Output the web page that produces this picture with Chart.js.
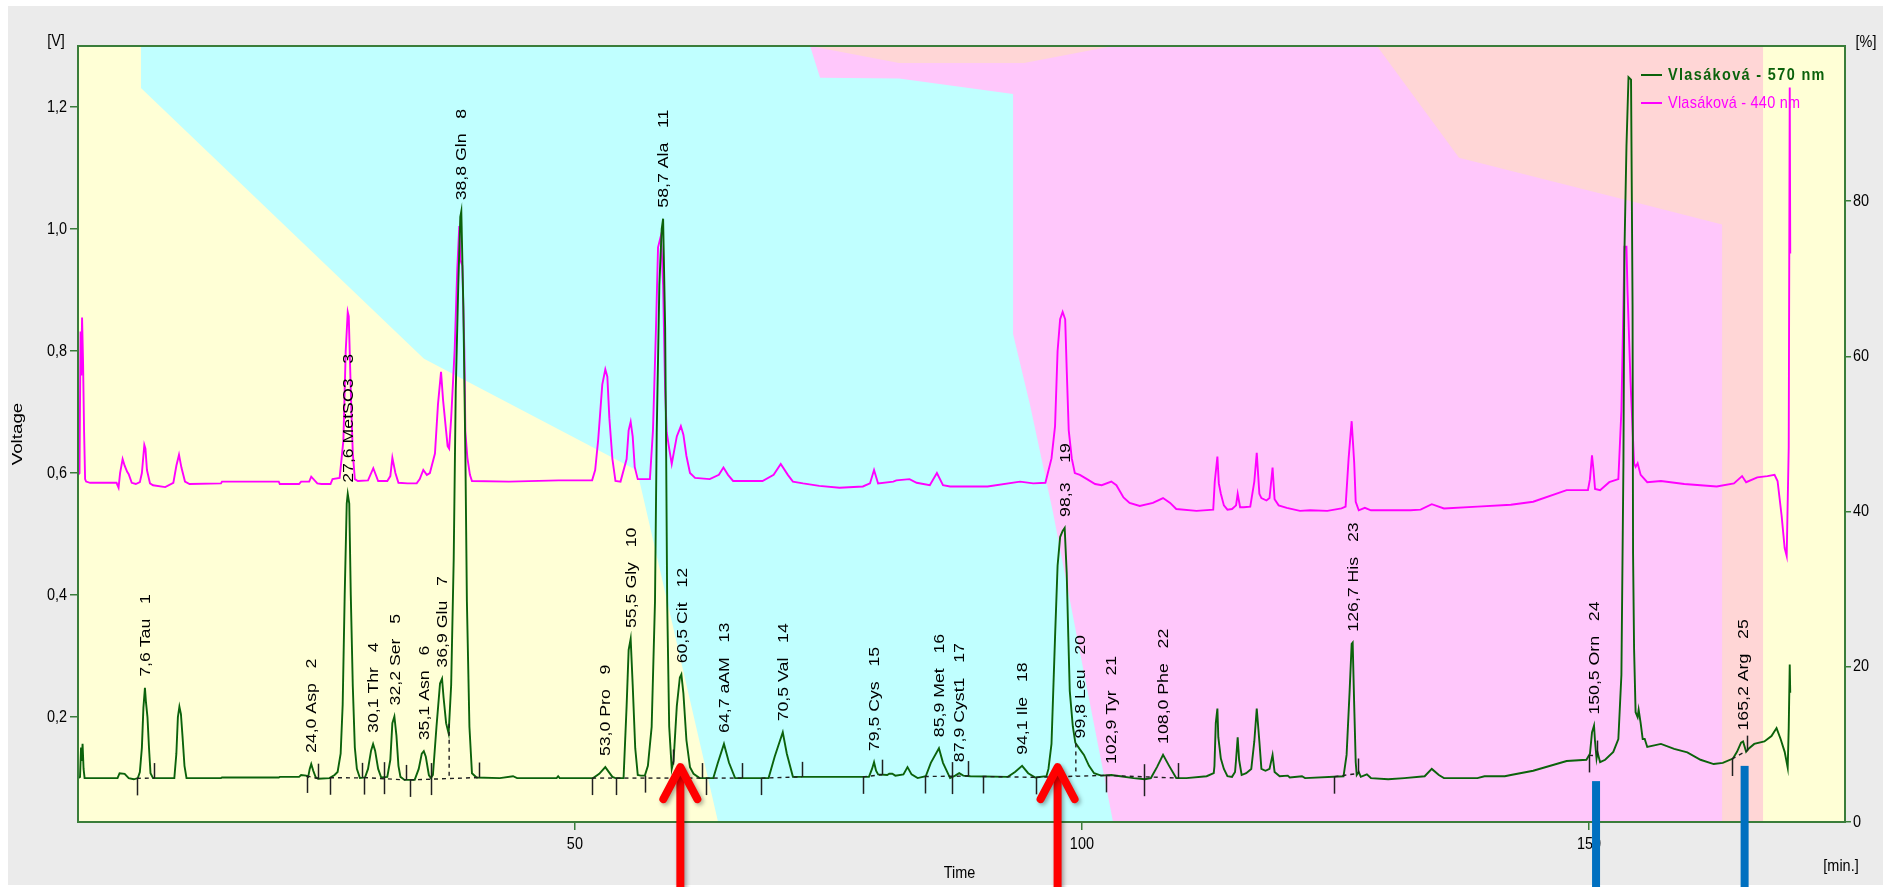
<!DOCTYPE html>
<html>
<head>
<meta charset="utf-8">
<title>Aminokyseliny – chromatogram</title>
<script src="https://cdn.jsdelivr.net/npm/chart.js@4.4.1/dist/chart.umd.min.js"></script>
<style>
  html, body { margin: 0; padding: 0; background: #ffffff; overflow: hidden; }
  canvas { display: block; }
</style>
</head>
<body>
<canvas id="chrom" width="1883" height="887"></canvas>
<script>
// ---- axis ticks -------------------------------------------------------
const timeTicks = [50, 100, 150];
const voltTicks = [0.2, 0.4, 0.6, 0.8, 1.0, 1.2];
const pctTicks = [0, 20, 40, 60, 80];

// ---- gradient program (upper edge of each eluent band, % vs. min) -----
const gradYellow = [[1, 100], [7.21, 100], [7.21, 94.6], [35.12, 59.7], [56.13, 45.3], [64.12, 0], [167.17, 0], [167.17, 100], [175.25, 100]];
const gradCyan = [[1, 100], [73.19, 100], [74.18, 95.9], [81.97, 95.8], [93.21, 93.8], [93.21, 62.9], [94.89, 53.7], [97.15, 39.9], [99.52, 23.8], [103.07, 0], [175.25, 0]];
const gradPink = [[1, 100], [73.19, 100], [81.97, 97.8], [94.29, 97.8], [103.07, 100], [129.1, 100], [137.19, 85.6], [154.16, 80.0], [163.13, 77.0], [163.13, 0], [175.25, 0]];
const gradSalmon = [[1, 100], [175.25, 100]];

// ---- detector signals [min, V] ----------------------------------------
const signal570 = [
  [1.0,0.100],[1.2,0.102],[1.3,0.150],[1.38,0.128],[1.45,0.156],[1.55,0.115],[1.65,0.100],
  [4.9,0.100],[5.1,0.108],[5.6,0.107],[6.0,0.100],[6.5,0.098],[6.9,0.100],
  [7.1,0.110],[7.3,0.150],[7.45,0.215],[7.6,0.248],[7.7,0.225],[7.85,0.200],[8.0,0.150],[8.15,0.108],[8.4,0.100],
  [10.5,0.100],[10.7,0.140],[10.85,0.200],[11.0,0.217],[11.15,0.205],[11.3,0.170],[11.5,0.120],[11.7,0.100],
  [15.1,0.100],[15.2,0.101],[20.8,0.101],[20.9,0.102],[22.8,0.102],[23.0,0.105],[23.5,0.104],[23.7,0.102],[23.85,0.115],[24.0,0.123],[24.2,0.112],[24.45,0.101],[24.7,0.099],
  [25.8,0.100],[26.3,0.105],[26.6,0.110],[26.9,0.140],[27.1,0.220],[27.3,0.400],[27.5,0.550],[27.6,0.566],[27.75,0.550],[27.9,0.400],[28.1,0.250],[28.3,0.150],[28.5,0.115],[28.8,0.100],
  [29.3,0.101],[29.6,0.115],[29.9,0.145],[30.1,0.156],[30.3,0.145],[30.6,0.115],[30.9,0.101],
  [31.5,0.102],[31.8,0.130],[32.0,0.190],[32.2,0.201],[32.4,0.170],[32.6,0.120],[32.8,0.102],[33.2,0.097],[34.2,0.097],
  [34.6,0.115],[34.9,0.140],[35.1,0.144],[35.3,0.135],[35.6,0.105],[35.8,0.100],
  [36.0,0.105],[36.35,0.184],[36.7,0.255],[36.9,0.263],[37.05,0.232],[37.3,0.190],[37.55,0.173],
  [37.8,0.253],[38.05,0.459],[38.25,0.735],[38.5,0.908],[38.7,1.020],[38.8,1.029],[39.0,0.874],[39.2,0.632],[39.35,0.390],[39.6,0.184],[39.85,0.108],[40.3,0.101],
  [42.6,0.100],[43.9,0.103],[44.3,0.100],[48.2,0.100],[48.35,0.103],[48.5,0.100],[51.8,0.100],
  [52.4,0.107],[53.0,0.118],[53.3,0.111],[53.7,0.102],[54.0,0.100],[54.8,0.100],
  [55.1,0.218],[55.3,0.310],[55.5,0.328],[55.7,0.253],[55.95,0.149],[56.2,0.105],[56.5,0.104],[56.9,0.104],
  [57.2,0.120],[57.57,0.184],[57.9,0.390],[58.07,0.667],[58.33,0.908],[58.56,1.000],[58.7,1.017],[58.9,0.839],[59.0,0.632],[59.1,0.390],[59.3,0.184],[59.55,0.115],
  [59.73,0.128],[60.05,0.218],[60.35,0.265],[60.5,0.270],[60.7,0.239],[61.0,0.162],[61.35,0.118],[61.7,0.107],[62.3,0.100],
  [63.65,0.100],[64.1,0.125],[64.7,0.156],[65.2,0.125],[65.8,0.100],
  [69.1,0.100],[69.7,0.135],[70.5,0.175],[70.9,0.140],[71.5,0.102],
  [79.0,0.102],[79.3,0.115],[79.5,0.126],[79.7,0.112],[79.9,0.106],[80.8,0.105],[81.0,0.107],[81.3,0.107],[81.6,0.104],[82.4,0.106],[82.8,0.118],[83.2,0.106],[83.8,0.100],
  [84.6,0.103],[85.1,0.125],[85.9,0.149],[86.3,0.125],[87.0,0.100],[87.5,0.104],[87.9,0.108],[88.3,0.104],[89.0,0.103],[92.7,0.102],
  [93.4,0.110],[94.1,0.120],[94.7,0.108],[95.4,0.101],[96.5,0.103],
  [96.7,0.115],[97.0,0.156],[97.35,0.331],[97.6,0.448],[97.85,0.495],[98.1,0.505],[98.3,0.510],[98.5,0.436],[98.66,0.331],[98.8,0.243],[99.1,0.185],[99.35,0.158],
  [99.8,0.147],[100.2,0.138],[100.7,0.120],[101.2,0.108],[101.9,0.104],[102.9,0.105],[103.8,0.103],[105.1,0.100],[106.2,0.098],
  [106.8,0.100],[107.4,0.118],[108.0,0.138],[108.6,0.120],[109.3,0.100],[110.3,0.100],[112.3,0.103],[113.0,0.108],
  [113.07,0.120],[113.2,0.190],[113.36,0.214],[113.45,0.167],[113.7,0.132],[114.0,0.115],[114.35,0.103],[114.8,0.102],
  [115.1,0.110],[115.2,0.130],[115.36,0.167],[115.5,0.130],[115.75,0.105],[116.2,0.108],[116.7,0.115],
  [117.0,0.160],[117.24,0.214],[117.5,0.160],[117.7,0.115],[118.1,0.112],[118.5,0.115],[118.8,0.138],[119.0,0.110],[119.5,0.103],[120.3,0.104],[120.5,0.101],[121.7,0.103],[122.0,0.100],
  [125.8,0.103],[126.1,0.138],[126.4,0.243],[126.6,0.320],[126.7,0.322],[126.85,0.220],[127.0,0.126],[127.1,0.105],[127.3,0.110],[127.5,0.102],[128.1,0.106],[128.5,0.100],
  [130.2,0.098],[131.8,0.100],[133.8,0.103],[134.5,0.115],[135.2,0.105],[135.7,0.100],[139.0,0.100],[139.7,0.103],[141.7,0.103],[142.3,0.105],
  [144.5,0.112],[147.8,0.128],[149.75,0.130],[150.1,0.140],[150.3,0.175],[150.5,0.186],[150.6,0.160],[150.75,0.132],[150.85,0.142],[151.1,0.126],[151.6,0.130],[152.4,0.143],[152.9,0.164],
  [153.2,0.269],[153.4,0.616],[153.5,0.963],[153.7,1.136],[153.9,1.249],[154.15,1.245],[154.3,0.876],[154.35,0.468],[154.45,0.312],[154.6,0.208],[154.8,0.200],[154.9,0.212],[155.1,0.190],[155.3,0.164],[155.5,0.164],[155.75,0.151],
  [157.1,0.156],[158.4,0.148],[159.7,0.142],[161.0,0.130],[162.3,0.123],[163.2,0.125],[164.2,0.132],[164.6,0.143],[165.0,0.158],[165.2,0.160],[165.5,0.143],[165.8,0.149],[166.3,0.156],[167.3,0.160],
  [168.0,0.169],[168.5,0.182],[168.9,0.164],[169.3,0.143],[169.6,0.117],[169.7,0.182],[169.8,0.286],[169.85,0.240]
];

const signal440 = [
  [1.0,0.597],[1.15,0.600],[1.25,0.832],[1.32,0.760],[1.4,0.855],[1.5,0.780],[1.6,0.668],[1.7,0.590],[1.8,0.586],[2.2,0.584],[4.8,0.584],[5.0,0.576],[5.15,0.600],[5.4,0.623],[5.6,0.612],[5.85,0.602],[6.0,0.598],[6.3,0.584],[6.7,0.582],[7.1,0.585],
  [7.3,0.600],[7.54,0.646],[7.65,0.640],[7.8,0.605],[8.1,0.583],[8.4,0.580],[9.6,0.577],[10.4,0.584],[10.7,0.612],[10.96,0.630],[11.2,0.609],[11.55,0.586],[12.0,0.582],
  [15.1,0.583],[15.2,0.586],[20.8,0.586],[20.9,0.582],[22.8,0.582],[23.0,0.586],[23.8,0.586],[24.0,0.594],[24.6,0.583],[25.0,0.582],[25.9,0.582],[26.1,0.590],[26.8,0.592],
  [27.17,0.653],[27.4,0.800],[27.6,0.864],[27.7,0.857],[27.9,0.735],[28.1,0.632],[28.3,0.590],[28.6,0.587],[29.6,0.588],[30.12,0.608],[30.6,0.587],[31.5,0.587],[31.8,0.595],[32.0,0.625],[32.3,0.600],[32.6,0.584],[33.5,0.583],[34.4,0.583],[34.7,0.590],[35.05,0.605],[35.4,0.597],[35.7,0.600],
  [36.2,0.632],[36.5,0.713],[36.8,0.766],[37.0,0.720],[37.3,0.669],[37.45,0.644],[37.6,0.640],[37.8,0.690],[38.15,0.804],[38.4,0.934],[38.6,1.005],[38.7,0.950],[38.9,0.940],[39.1,0.800],[39.2,0.667],[39.4,0.625],[39.65,0.597],[39.85,0.587],
  [43.5,0.586],[48.4,0.588],[51.7,0.588],
  [52.0,0.605],[52.3,0.655],[52.7,0.745],[53.0,0.770],[53.2,0.758],[53.4,0.690],[53.7,0.623],[54.0,0.587],[54.5,0.586],[55.1,0.623],[55.3,0.670],[55.5,0.684],[55.7,0.660],[55.9,0.610],[56.2,0.590],[57.4,0.590],
  [57.7,0.670],[58.0,0.839],[58.2,0.970],[58.5,0.990],[58.7,0.908],[58.9,0.736],[59.05,0.667],[59.3,0.640],[59.55,0.615],[60.05,0.660],[60.45,0.677],[60.7,0.663],[61.0,0.628],[61.35,0.600],[61.85,0.592],
  [63.3,0.590],[64.2,0.597],[64.65,0.609],[65.1,0.597],[65.6,0.587],[68.5,0.587],[69.6,0.597],[70.3,0.615],[71.0,0.597],[71.5,0.586],[72.5,0.583],[74.1,0.579],[76.1,0.576],[78.4,0.578],
  [79.1,0.583],[79.5,0.605],[79.9,0.583],[81.4,0.586],[81.7,0.588],[83.0,0.590],[83.7,0.584],[85.0,0.580],
  [85.7,0.600],[86.3,0.580],[87.0,0.578],[90.7,0.578],[93.9,0.586],[95.2,0.583],[96.4,0.584],
  [97.0,0.624],[97.35,0.677],[97.6,0.800],[97.85,0.852],[98.1,0.864],[98.35,0.852],[98.5,0.770],[98.7,0.670],[99.0,0.624],[99.3,0.600],[99.8,0.597],[100.5,0.590],[101.3,0.582],[101.95,0.580],
  [102.9,0.586],[103.4,0.580],[104.1,0.560],[104.7,0.551],[105.7,0.546],[107.0,0.551],[108.0,0.559],[108.7,0.551],[109.3,0.541],[111.3,0.538],[112.95,0.540],
  [113.1,0.586],[113.36,0.627],[113.5,0.583],[113.7,0.566],[114.0,0.547],[114.35,0.540],[114.8,0.541],[115.2,0.547],[115.36,0.566],[115.6,0.544],[115.95,0.544],[116.6,0.545],
  [117.0,0.586],[117.24,0.633],[117.5,0.566],[117.7,0.559],[118.2,0.555],[118.5,0.559],[118.8,0.609],[119.0,0.557],[119.4,0.547],[120.2,0.543],[121.5,0.538],[122.5,0.539],[124.2,0.538],[125.6,0.542],[126.0,0.545],
  [126.3,0.624],[126.6,0.685],[126.85,0.617],[127.0,0.553],[127.3,0.539],[127.9,0.543],[128.5,0.539],[132.4,0.539],[133.4,0.540],[134.5,0.549],[135.7,0.542],[139.0,0.545],[142.3,0.548],
  [144.5,0.553],[147.8,0.572],[149.9,0.572],[150.1,0.590],[150.3,0.629],[150.45,0.605],[150.6,0.574],[151.1,0.572],[152.0,0.585],[152.9,0.590],
  [153.2,0.702],[153.4,0.876],[153.5,0.971],[153.7,0.971],[153.8,0.900],[154.1,0.750],[154.45,0.616],[154.6,0.610],[154.8,0.616],[155.1,0.597],[155.75,0.585],
  [157.1,0.587],[159.4,0.582],[162.6,0.578],[164.3,0.583],[165.1,0.595],[165.5,0.585],[166.6,0.593],[167.6,0.595],[168.3,0.597],[168.6,0.587],
  [169.0,0.530],[169.3,0.477],[169.5,0.464],[169.7,0.642],[169.8,1.232],[169.85,0.960]
];

// ---- identified peaks ---------------------------------------------------
const peakTimes = [7.6, 24.0, 27.6, 30.1, 32.2, 35.1, 36.9, 38.8, 53.0, 55.5, 58.7, 60.5, 64.7, 70.5, 79.5, 85.9, 87.9, 94.1, 98.3, 99.8, 102.9, 108.0, 126.7, 150.5, 165.2];
const peakNames = ['Tau', 'Asp', 'MetSO3', 'Thr', 'Ser', 'Asn', 'Glu', 'Gln', 'Pro', 'Gly', 'Ala', 'Cit', 'aAM', 'Val', 'Cys', 'Met', 'Cyst1', 'Ile', '', 'Leu', 'Tyr', 'Phe', 'His', 'Orn', 'Arg'];

// integration marks [min]
const peakStarts = [6.8, 23.55, 25.85, 29.2, 33.74, 51.7, 54.1, 56.9, 62.9, 68.4, 78.4, 84.5, 90.2, 95.5, 102.35, 124.9, 150.0, 164.1];
const peakEnds = [8.5, 24.7, 28.97, 33.3, 40.5, 59.65, 62.5, 66.45, 72.4, 80.3, 88.8, 109.5, 127.2, 150.8, 165.6];
const peakSplits = [31.2, 35.8, 87.2, 106.1];
const dropLines = [37.6, 99.4];
const baselines = [[6.8, 8.5], [23.55, 24.7], [25.85, 28.97], [29.2, 33.3], [33.74, 40.5], [51.7, 54.1], [54.1, 62.5], [62.9, 66.45], [68.4, 72.4], [78.4, 80.3], [84.5, 88.8], [90.2, 95.5], [95.5, 102.35], [102.35, 109.5], [124.9, 127.2], [150.0, 150.8], [164.1, 165.6]];

// highlighted peaks: arrow tips and bar tops [min, V]
const arrowMarks = [[60.4, 0.118], [97.6, 0.118]];
const barMarks = [[150.7, 0.095], [165.35, 0.12]];

// ---- styling ------------------------------------------------------------
const COL_570 = '#0b620b';
const COL_440 = '#ff00ff';
const AXIS_GREEN = '#3a7d3a';
const PANEL_GRAY = '#ebebeb';
const BAND = { yellow: '#ffffd6', cyan: '#c0ffff', pink: '#ffc7fb', salmon: '#ffd6d6' };
const FACE = "'Liberation Sans', Arial, Helvetica, sans-serif";

const toXY = arr => arr.map(([x, y]) => ({ x, y }));

function valueAt(pts, t) {
  for (let i = 1; i < pts.length; i++) {
    if (pts[i][0] >= t) {
      const [t0, v0] = pts[i - 1], [t1, v1] = pts[i];
      return t1 === t0 ? v1 : v0 + (v1 - v0) * (t - t0) / (t1 - t0);
    }
  }
  return pts[pts.length - 1][1];
}

function localMax(pts, t, w) {
  let m = valueAt(pts, t);
  pts.forEach(([ti, vi]) => { if (Math.abs(ti - t) <= w && vi > m) m = vi; });
  return m;
}

// horizontal text, slightly condensed like the instrument software font
function hText(ctx, s, x, y, opt) {
  const o = Object.assign({ size: 17, squeeze: 0.85, align: 'left', weight: '', color: '#000', spacing: 0 }, opt || {});
  ctx.save();
  ctx.font = `${o.weight} ${o.size}px ${FACE}`;
  ctx.letterSpacing = o.spacing + 'px';
  ctx.fillStyle = o.color;
  ctx.textBaseline = 'middle';
  ctx.textAlign = 'left';
  const w = ctx.measureText(s).width * o.squeeze;
  const x0 = o.align === 'center' ? x - w / 2 : o.align === 'right' ? x - w : x;
  ctx.translate(x0, y);
  ctx.scale(o.squeeze, 1);
  ctx.fillText(s, 0, 0);
  ctx.restore();
}

// vertical text reading bottom-to-top, starting at (x, y)
function vText(ctx, s, x, y, opt) {
  const o = Object.assign({ size: 15, stretch: 1.18, align: 'left', color: '#000' }, opt || {});
  ctx.save();
  ctx.font = `${o.size}px ${FACE}`;
  ctx.fillStyle = o.color;
  ctx.textBaseline = 'middle';
  ctx.textAlign = o.align;
  ctx.translate(x, y);
  ctx.rotate(-Math.PI / 2);
  ctx.scale(o.stretch, 1);
  ctx.fillText(s, 0, 0);
  ctx.restore();
}

const fmt = v => v.toFixed(1).replace('.', ',');

// ---- plugins ------------------------------------------------------------
const panelPlugin = {
  id: 'panel',
  beforeDraw(chart) {
    const { ctx, width, height } = chart;
    ctx.save();
    ctx.fillStyle = '#ffffff';
    ctx.fillRect(0, 0, width, height);
    ctx.fillStyle = PANEL_GRAY;
    ctx.fillRect(8, 6, width - 8, height - 8);
    ctx.restore();
  }
};

const peakPlugin = {
  id: 'peaks',
  afterDatasetsDraw(chart) {
    const { ctx, chartArea: a, scales: { x, y } } = chart;
    const px = t => x.getPixelForValue(t);
    const py = v => y.getPixelForValue(v);
    const at = t => valueAt(signal570, t);
    ctx.save();
    ctx.beginPath();
    ctx.rect(a.left, a.top, a.width, a.height);
    ctx.clip();

    // integration baselines
    ctx.strokeStyle = '#202020';
    ctx.lineWidth = 1.4;
    ctx.setLineDash([4, 4]);
    baselines.forEach(([t0, t1]) => {
      ctx.beginPath();
      ctx.moveTo(px(t0), py(at(t0)));
      ctx.lineTo(px(t1), py(at(t1)));
      ctx.stroke();
    });
    // perpendicular drops between unresolved peaks
    dropLines.forEach(t => {
      const seg = baselines.find(([t0, t1]) => t > t0 && t < t1);
      const b0 = at(seg[0]), b1 = at(seg[1]);
      const base = b0 + (b1 - b0) * (t - seg[0]) / (seg[1] - seg[0]);
      ctx.beginPath();
      ctx.moveTo(px(t), py(at(t)));
      ctx.lineTo(px(t), py(base));
      ctx.stroke();
    });
    ctx.setLineDash([]);

    // start / end markers
    ctx.lineWidth = 1.5;
    const mark = (t, up, down) => {
      const X = Math.round(px(t)) + 0.5, Y = py(at(t));
      ctx.beginPath();
      ctx.moveTo(X, Y - up);
      ctx.lineTo(X, Y + down);
      ctx.stroke();
    };
    peakStarts.forEach(t => mark(t, 0, 17));
    peakEnds.forEach(t => mark(t, 15, 0));
    peakSplits.forEach(t => mark(t, 15, 17));

    // peak captions
    peakTimes.forEach((t, i) => {
      const top = py(localMax(signal570, t, 0.2)) - 11;
      const name = peakNames[i];
      const txt = `${fmt(t)} ${name}   ${i + 1}`;
      vText(ctx, txt, px(t) + 1, top);
    });
    ctx.restore();
  }
};

const decorPlugin = {
  id: 'decor',
  afterDraw(chart) {
    const { ctx, chartArea: a, scales: { x, y, yR }, height } = chart;

    // plot frame
    ctx.save();
    ctx.strokeStyle = AXIS_GREEN;
    ctx.lineWidth = 2;
    ctx.strokeRect(a.left, a.top, a.width, a.height);
    ctx.restore();

    // tick labels
    voltTicks.forEach(v => hText(ctx, fmt(v), a.left - 11, y.getPixelForValue(v), { align: 'right' }));
    pctTicks.forEach(v => hText(ctx, String(v), a.right + 8, yR.getPixelForValue(v), { align: 'left' }));
    timeTicks.forEach(v => hText(ctx, String(v), x.getPixelForValue(v), a.bottom + 22, { align: 'center' }));

    // axis titles and units
    hText(ctx, '[V]', a.left - 22, a.top - 5, { align: 'center' });
    hText(ctx, '[%]', a.right + 21, a.top - 4, { align: 'center' });
    hText(ctx, 'Time', (a.left + a.right) / 2 - 2, a.bottom + 51, { align: 'center' });
    hText(ctx, '[min.]', a.right - 4, a.bottom + 44, { align: 'center' });
    vText(ctx, 'Voltage', 18, (a.top + a.bottom) / 2, { align: 'center', size: 15, stretch: 1.25 });

    // legend
    const lx = a.right - 204;
    const entries = chart.data.datasets.filter(d => d.showInLegend);
    entries.forEach((d, i) => {
      const ly = a.top + 29 + i * 28;
      ctx.save();
      ctx.strokeStyle = d.borderColor;
      ctx.lineWidth = 2;
      ctx.beginPath();
      ctx.moveTo(lx, ly);
      ctx.lineTo(lx + 21, ly);
      ctx.stroke();
      ctx.restore();
      hText(ctx, d.label, lx + 27, ly, i === 0
        ? { weight: 'bold', color: d.borderColor, spacing: 1.6 }
        : { color: d.borderColor, spacing: 0.3 });
    });

    // highlighted peaks
    ctx.save();
    barMarks.forEach(([t, v]) => {
      const X = x.getPixelForValue(t), Y = y.getPixelForValue(v);
      ctx.fillStyle = '#0070c0';
      ctx.fillRect(X - 4, Y, 8, height - Y);
    });
    arrowMarks.forEach(([t, v]) => {
      const X = x.getPixelForValue(t), Y = y.getPixelForValue(v);
      ctx.strokeStyle = '#ff0000';
      ctx.lineWidth = 8;
      ctx.lineCap = 'round';
      ctx.lineJoin = 'round';
      ctx.shadowColor = 'rgba(0,0,0,0.35)';
      ctx.shadowBlur = 4;
      ctx.shadowOffsetX = 2;
      ctx.shadowOffsetY = 2;
      ctx.beginPath();
      ctx.moveTo(X, Y + 4);
      ctx.lineTo(X, height + 10);
      ctx.stroke();
      ctx.beginPath();
      ctx.moveTo(X - 17, Y + 32);
      ctx.lineTo(X, Y);
      ctx.lineTo(X + 17, Y + 32);
      ctx.stroke();
    });
    ctx.restore();
  }
};

// ---- chart --------------------------------------------------------------
const band = (data, color, order) => ({
  data: toXY(data), yAxisID: 'yR', fill: 'start', backgroundColor: color,
  borderColor: 'rgba(0,0,0,0)', borderWidth: 0, pointRadius: 0, tension: 0, order
});

const sideAxis = (ticksArr, min, max, position, tickLength) => ({
  type: 'linear', position, min, max,
  afterBuildTicks: s => { s.ticks = ticksArr.map(v => ({ value: v })); },
  ticks: { display: false },
  grid: { drawOnChartArea: false, drawTicks: true, tickLength, color: AXIS_GREEN, lineWidth: 1.5 },
  border: { color: AXIS_GREEN, width: 2 }
});

const yAxis = sideAxis(voltTicks, 0.028, 1.3, 'left', 8);
yAxis.afterFit = s => { s.width = 78; };
const yRAxis = sideAxis(pctTicks, 0, 100, 'right', 6);
yRAxis.afterFit = s => { s.width = 38; };
const xAxis = sideAxis(timeTicks, 1.0, 175.25, 'bottom', 8);
xAxis.afterFit = s => { s.height = 65; };

new Chart(document.getElementById('chrom'), {
  type: 'line',
  data: {
    datasets: [
      { label: 'Vlasáková - 570 nm', data: toXY(signal570), yAxisID: 'y', borderColor: COL_570, borderWidth: 1.9,
        pointRadius: 0, fill: false, tension: 0, order: 1, showInLegend: true },
      { label: 'Vlasáková - 440 nm', data: toXY(signal440), yAxisID: 'y', borderColor: COL_440, borderWidth: 1.9,
        pointRadius: 0, fill: false, tension: 0, order: 2, showInLegend: true },
      band(gradSalmon, BAND.salmon, 40),
      band(gradPink, BAND.pink, 30),
      band(gradCyan, BAND.cyan, 20),
      band(gradYellow, BAND.yellow, 15)
    ]
  },
  options: {
    responsive: false,
    animation: false,
    devicePixelRatio: 1,
    events: [],
    parsing: true,
    layout: { padding: { top: 46, left: 0, right: 0, bottom: 0 } },
    plugins: { legend: { display: false }, tooltip: { enabled: false }, title: { display: false } },
    scales: { x: xAxis, y: yAxis, yR: yRAxis }
  },
  plugins: [panelPlugin, peakPlugin, decorPlugin]
});
</script>
</body>
</html>
